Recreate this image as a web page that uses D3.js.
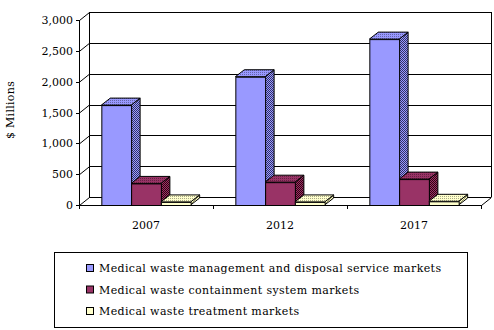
<!DOCTYPE html>
<html>
<head>
<meta charset="utf-8">
<script src="https://cdn.jsdelivr.net/npm/d3@7"></script>
<style>
  body { margin: 0; background: #fff; }
  text { font-family: "DejaVu Serif", "Liberation Serif", serif; font-size: 11px; fill: #000; }
</style>
</head>
<body>
<div id="viz"></div>
<script>
const years = ["2007", "2012", "2017"];
const series = [
  "Medical waste management and disposal service markets",
  "Medical waste containment system markets",
  "Medical waste treatment markets"
];
const management = [1620, 2080, 2690];
const containment = [350, 370, 420];
const treatment = [50, 50, 60];
const yTicks = [0, 500, 1000, 1500, 2000, 2500, 3000];

const colors = ["#9999ff", "#993366", "#ffffcc"];
const darks  = ["#333366", "#330011", "#999966"];
const mids   = ["#6666aa", "#662244", "#aaaa88"];

const width = 494, height = 330;
const depth = {x: 10, y: -8};      // wall depth
const barDepth = {x: 9, y: -7};    // bar depth

const svg = d3.select("#viz").append("svg")
  .attr("width", width).attr("height", height);

// dither patterns for the 3d faces
const defs = svg.append("defs");
colors.forEach((c, i) => {
  const side = defs.append("pattern").attr("id", "side" + i)
    .attr("width", 2).attr("height", 2).attr("patternUnits", "userSpaceOnUse");
  side.append("rect").attr("width", 2).attr("height", 2).attr("fill", c);
  side.append("rect").attr("width", 1).attr("height", 1).attr("fill", darks[i]);
  side.append("rect").attr("x", 1).attr("y", 1).attr("width", 1).attr("height", 1).attr("fill", darks[i]);
  const top = defs.append("pattern").attr("id", "top" + i)
    .attr("width", 2).attr("height", 2).attr("patternUnits", "userSpaceOnUse");
  top.append("rect").attr("width", 2).attr("height", 2).attr("fill", c);
  top.append("rect").attr("width", 1).attr("height", 1).attr("fill", mids[i]);
});

const x = d3.scaleBand().domain(years).range([79, 481]);
const xs = d3.scaleBand().domain(d3.range(series.length))
  .range([0, x.bandwidth()]).paddingOuter(0.75).paddingInner(0);
const y = d3.scaleLinear().domain([0, 3000]).range([205, 20]);

const g = svg.append("g").attr("stroke", "#000").attr("stroke-width", 1)
  .attr("fill", "none").attr("shape-rendering", "crispEdges");

// back wall and gridlines
const x0 = x.range()[0], x1 = x.range()[1];
g.selectAll(".grid").data(yTicks).join("line")
  .attr("x1", x0 + depth.x).attr("x2", x1 + depth.x)
  .attr("y1", d => y(d) + depth.y + 0.5).attr("y2", d => y(d) + depth.y + 0.5);
g.append("line").attr("x1", x0 + depth.x + 0.5).attr("x2", x0 + depth.x + 0.5)
  .attr("y1", y(3000) + depth.y).attr("y2", y(0) + depth.y);
g.append("line").attr("x1", x1 + depth.x + 0.5).attr("x2", x1 + depth.x + 0.5)
  .attr("y1", y(3000) + depth.y).attr("y2", y(0) + depth.y);

// side wall diagonals
const diag = svg.append("g").attr("stroke", "#000").attr("stroke-width", 1);
diag.selectAll("line").data(yTicks).join("line")
  .attr("x1", x0 + 0.5).attr("y1", d => y(d) + 0.5)
  .attr("x2", x0 + depth.x + 0.5).attr("y2", d => y(d) + depth.y + 0.5);
diag.append("line")
  .attr("x1", x1 + 0.5).attr("y1", y(0) + 0.5)
  .attr("x2", x1 + depth.x + 0.5).attr("y2", y(0) + depth.y + 0.5);

// bars
const data = [management, containment, treatment];
years.forEach((yr, j) => {
  data.forEach((vals, i) => {
    const bx = x(yr) + xs(i), bw = xs.bandwidth();
    const top = y(vals[j]), base = y(0);
    const bars = svg.append("g").attr("stroke", "#000").attr("stroke-width", 1)
      .attr("stroke-linejoin", "round");
    bars.append("path")
      .attr("fill", `url(#side${i})`)
      .attr("d", `M${bx + bw},${base}L${bx + bw + barDepth.x},${base + barDepth.y}` +
        `L${bx + bw + barDepth.x},${top + barDepth.y}L${bx + bw},${top}Z`);
    bars.append("path")
      .attr("fill", `url(#top${i})`)
      .attr("d", `M${bx},${top}L${bx + barDepth.x},${top + barDepth.y}` +
        `L${bx + bw + barDepth.x},${top + barDepth.y}L${bx + bw},${top}Z`);
    bars.append("rect")
      .attr("x", bx + 0.5).attr("y", top + 0.5)
      .attr("width", bw).attr("height", base - top)
      .attr("fill", colors[i]);
  });
});

// front axes
const ax = svg.append("g").attr("stroke", "#000").attr("shape-rendering", "crispEdges");
ax.append("line").attr("x1", x0 + 0.5).attr("x2", x0 + 0.5)
  .attr("y1", y(3000)).attr("y2", y(0) + 4);
ax.append("line").attr("x1", x0).attr("x2", x1 + 1)
  .attr("y1", y(0) + 0.5).attr("y2", y(0) + 0.5);
ax.selectAll(".yt").data(yTicks).join("line")
  .attr("x1", x0 - 3).attr("x2", x0)
  .attr("y1", d => y(d) + 0.5).attr("y2", d => y(d) + 0.5);
ax.selectAll(".xt").data(years.concat(["end"])).join("line")
  .attr("x1", (d, i) => x0 + i * x.step() + 0.5)
  .attr("x2", (d, i) => x0 + i * x.step() + 0.5)
  .attr("y1", y(0)).attr("y2", y(0) + 4);

// labels
svg.selectAll(".ylab").data(yTicks).join("text")
  .attr("x", x0 - 6).attr("y", d => y(d) + 4)
  .attr("text-anchor", "end")
  .text(d => d3.format(",")(d));
svg.selectAll(".xlab").data(years).join("text")
  .attr("x", d => x(d) + x.bandwidth() / 2).attr("y", 229)
  .attr("text-anchor", "middle")
  .text(d => d);
svg.append("text")
  .attr("transform", "translate(14,110) rotate(-90)")
  .attr("text-anchor", "middle")
  .style("letter-spacing", "0.3px")
  .text("$ Millions");

// legend
const legend = svg.append("g");
legend.append("rect").attr("x", 54.5).attr("y", 252.5)
  .attr("width", 413).attr("height", 75)
  .attr("fill", "#fff").attr("stroke", "#000");
const items = legend.selectAll(".item").data(series).join("g")
  .attr("transform", (d, i) => `translate(86,${264 + i * 21.5})`);
items.append("rect").attr("x", 0.5).attr("y", 0.5).attr("width", 7).attr("height", 7)
  .attr("fill", (d, i) => colors[i]).attr("stroke", "#000");
items.append("text").attr("x", 13).attr("y", 8)
  .style("letter-spacing", "0.38px")
  .text(d => d);
</script>
</body>
</html>
